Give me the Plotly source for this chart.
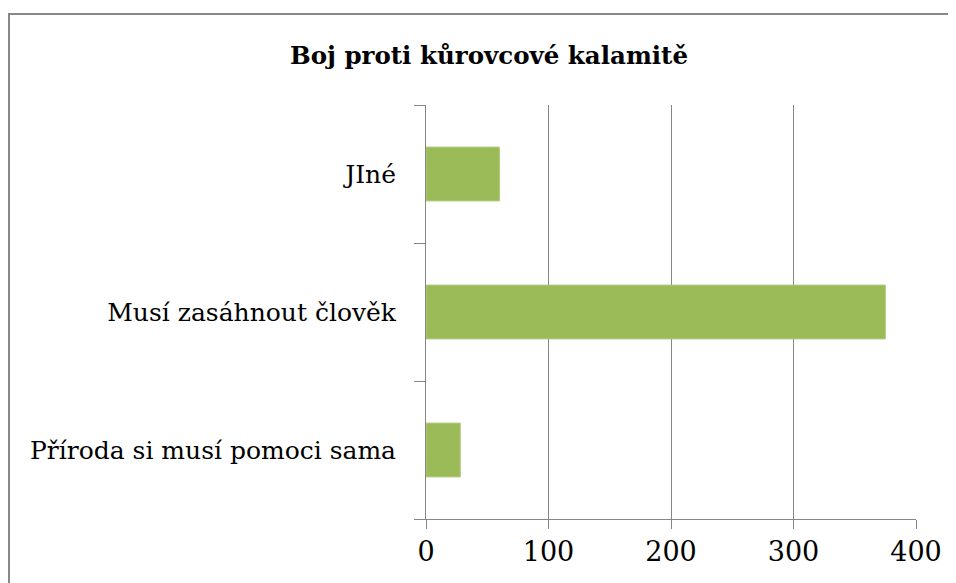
import plotly.graph_objects as go

# Data (bottom to top, as plotly draws categories)
categories = ['Příroda si musí pomoci sama', 'Musí zasáhnout člověk', 'JIné']
values = [28, 375, 60]
tick_vals = [0, 100, 200, 300, 400]

BAR_COLOR = '#9BBB59'
AXIS_COLOR = '#868686'
FONT_FAMILY = 'DejaVu Serif, serif'

# page adds an 8px body margin, so positions are offset by it
fig = go.Figure()
fig.add_trace(go.Bar(x=values, y=categories, orientation='h',
                     marker=dict(color=BAR_COLOR, line=dict(color='#B3CB82', width=1))))

fig.update_layout(
    width=956, height=583,
    margin=dict(l=418, r=48, t=97, b=72),
    paper_bgcolor='white', plot_bgcolor='white',
    font=dict(family=FONT_FAMILY, size=25, color='black'),
    title=dict(text='<b>Boj proti kůrovcové kalamitě</b>', x=(489 - 8) / 956, xanchor='center',
               y=1 - 47 / 583, yanchor='middle', font=dict(family=FONT_FAMILY, size=24.5)),
    bargap=0.61, showlegend=False,
)
fig.update_xaxes(range=[0, 400], tickvals=tick_vals, showgrid=True, gridcolor=AXIS_COLOR,
                 gridwidth=1, showline=True, linecolor=AXIS_COLOR, linewidth=1,
                 ticks='outside', ticklen=9, tickcolor=AXIS_COLOR, zeroline=False,
                 tickfont=dict(family=FONT_FAMILY, size=27), fixedrange=True)
fig.update_yaxes(showline=True, linecolor=AXIS_COLOR, linewidth=1, ticks='outside',
                 tickson='boundaries', ticklen=11, tickcolor=AXIS_COLOR, showgrid=False,
                 tickfont=dict(family=FONT_FAMILY, size=25),
                 ticklabelstandoff=24, fixedrange=True)

# outer chart border (cropped at right/bottom in the reference)
fig.add_shape(type='rect', xref='paper', yref='paper',
              x0=(1 - 418) / 490, x1=2, y0=-1, y1=(511 - 6) / 414,
              line=dict(color='#888888', width=2), fillcolor='rgba(0,0,0,0)')

fig.write_html('out.html')
